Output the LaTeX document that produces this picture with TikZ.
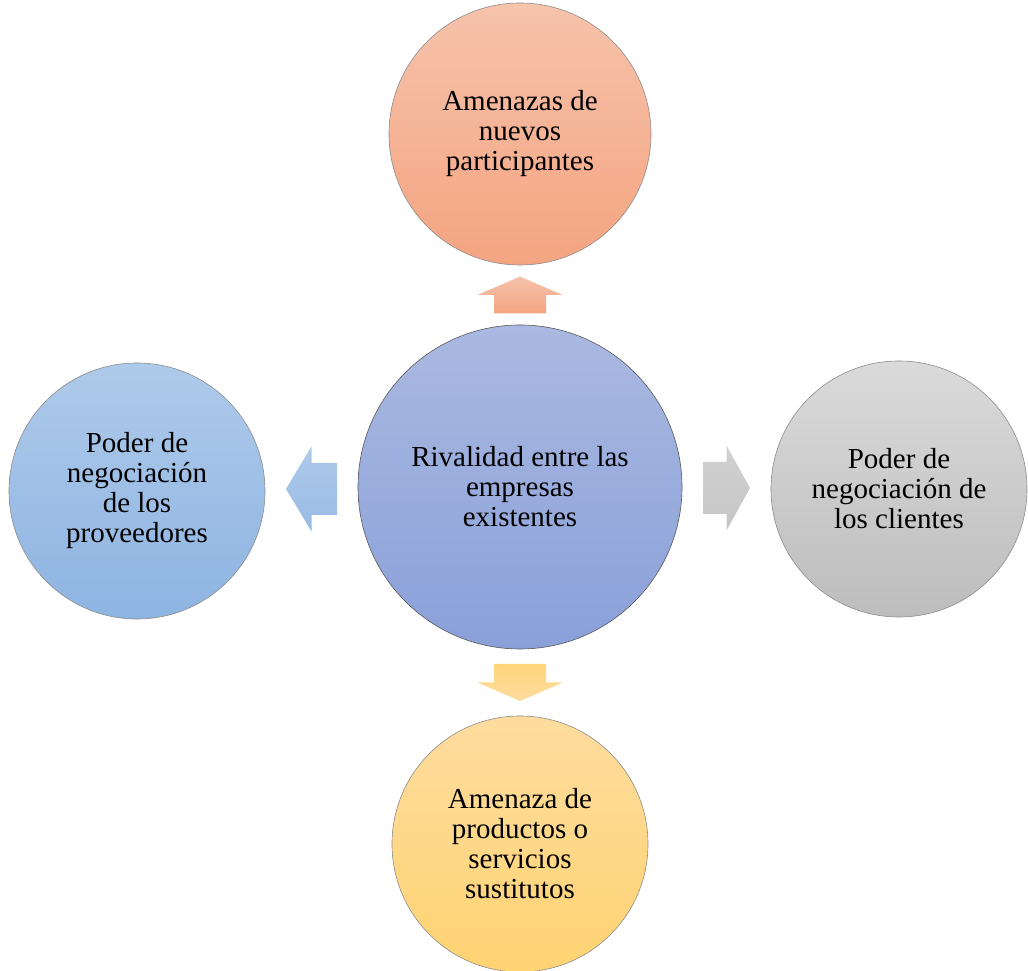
\documentclass[tikz,border=0pt]{standalone}
\usepackage{fontspec}
\setmainfont{Liberation Serif}
\usetikzlibrary{calc}
\usetikzlibrary{positioning}
\definecolor{salmontop}{HTML}{F6C3AC}
\definecolor{salmonbot}{HTML}{F4A480}
\definecolor{rivaltop}{HTML}{AAB9E1}
\definecolor{rivalbot}{HTML}{8AA0D9}
\definecolor{skytop}{HTML}{AECAEA}
\definecolor{skybot}{HTML}{8EB4E2}
\definecolor{greytop}{HTML}{DADADA}
\definecolor{greybot}{HTML}{BDBDBD}
\definecolor{sandtop}{HTML}{FEDC9E}
\definecolor{sandbot}{HTML}{FFD372}
\tikzset{
	force/.style={
		draw=black!45,
		circle,
		align=center,
		inner sep=0pt,
		minimum size=256pt,
		line width=0.6pt,
		font=\fontsize{29}{30}\selectfont,
	},
	rivalry/.style={
		force,
		draw=black!65,
		minimum size=324pt,
		top color=rivaltop,
		bottom color=rivalbot,
	},
	entrants/.style={force, minimum size=262pt, top color=salmontop, bottom color=salmonbot},
	suppliers/.style={force, top color=skytop, bottom color=skybot},
	buyers/.style={force, top color=greytop, bottom color=greybot},
	substitutes/.style={force, top color=sandtop, bottom color=sandbot},
}
% block arrow: position, angle, length, upper colour, lower colour
\newcommand{\forcearrow}[5]{%
	\shade[shift={#1}, rotate=#2, top color=#4, bottom color=#5]
		(-#3/2,26) -- (0,26) -- (0,42.5) -- (#3/2,0) -- (0,-42.5) -- (0,-26) -- (-#3/2,-26) -- cycle;}

\begin{document}
\begin{tikzpicture}[x=1pt, y=1pt]
	\useasboundingbox (0,0) rectangle (1028,971);

	\node[rivalry]     (rival) at (520,484) {Rivalidad entre las\\empresas\\existentes};
	\node[entrants]    (entrants) at (520,837) {Amenazas de\\nuevos\\participantes};
	\node[suppliers]   (suppliers) at (137,480) {Poder de\\negociación\\de los\\proveedores};
	\node[buyers]      (buyers) at (899,482) {Poder de\\negociación de\\los clientes};
	\node[substitutes] (substitutes) at (520,127) {Amenaza de\\productos o\\servicios\\sustitutos};

	\forcearrow{($(rival.north)!0.5!(entrants.south)$)}{90}{37}{salmontop}{salmonbot}
	\forcearrow{($(rival.west)!0.5!(suppliers.east)$)}{180}{51}{skytop}{skybot!70!skytop}
	\forcearrow{($(rival.east)!0.5!(buyers.west)$)}{0}{47}{greytop!70!greybot}{greybot!70!greytop}
	\forcearrow{($(rival.south)!0.5!(substitutes.north)$)}{-90}{37}{sandbot!80!sandtop}{sandtop}

\end{tikzpicture}
\end{document}
